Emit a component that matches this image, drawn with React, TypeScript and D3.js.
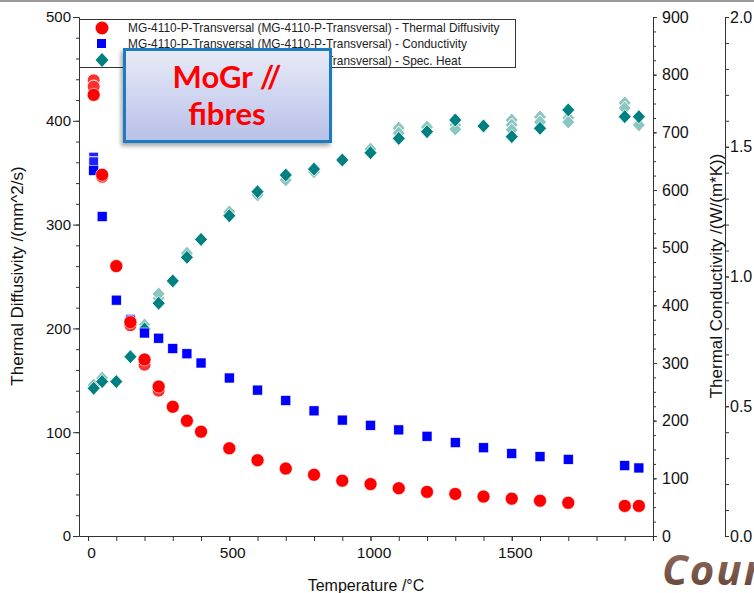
import React, { useEffect, useRef } from "react";
import * as d3 from "d3";

// temperatures /°C of the measured points
const temps = [20, 50, 100, 150, 200, 250, 300, 350, 400, 500, 600, 700, 800, 900, 1000, 1100, 1200, 1300, 1400, 1500, 1600, 1700, 1900, 1950];
// thermal diffusivity /(mm^2/s)
const diffusivity = [425, 348, 260, 206, 170, 144, 124.5, 111, 100.5, 84.5, 73, 65, 59, 53.3, 50, 46, 42.5, 40.5, 38, 36, 34, 32, 29, 29];
// thermal conductivity /(W/(m*K))
const conductivity = [634, 554, 409, 373, 352, 343, 325, 316, 300, 274, 253, 235, 217, 201, 192, 184, 173, 162, 153, 143, 137.5, 133, 122, 118];
// specific heat
const specHeat = [0.569, 0.595, 0.595, 0.691, 0.798, 0.897, 0.983, 1.074, 1.143, 1.234, 1.327, 1.391, 1.414, 1.449, 1.477, 1.532, 1.558, 1.603, 1.58, 1.539, 1.571, 1.642, 1.616, 1.616];

// repeated shots (drawn behind the main points)
const diffRepT = [20, 20, 50, 150, 200, 250];
const diffRepV = [439, 433, 346, 203, 165, 140];
const condRepT = [20, 20, 150, 200];
const condRepV = [657, 649, 376, 356];
const cpRepT = [20, 50, 200, 250, 250, 350, 500, 600, 700, 800, 1000, 1100, 1100, 1200, 1300, 1300, 1500, 1500, 1500, 1600, 1600, 1700, 1700, 1900, 1900, 1950];
const cpRepV = [0.582, 0.609, 0.813, 0.917, 0.933, 1.09, 1.249, 1.314, 1.372, 1.403, 1.491, 1.572, 1.553, 1.576, 1.584, 1.568, 1.603, 1.584, 1.565, 1.615, 1.595, 1.611, 1.595, 1.669, 1.649, 1.584];

const legendLabels = [
  "MG-4110-P-Transversal (MG-4110-P-Transversal) - Thermal Diffusivity",
  "MG-4110-P-Transversal (MG-4110-P-Transversal) - Conductivity",
  "MG-4110-P-Transversal (MG-4110-P-Transversal) - Spec. Heat",
];

const W = 754;
const H = 593;
const font = "'Liberation Sans', Arial, sans-serif";

const diamond = (cx: number, cy: number) =>
  `M${cx},${cy - 7}L${cx + 6.5},${cy}L${cx},${cy + 7}L${cx - 6.5},${cy}Z`;

function App() {
  const ref = useRef<SVGSVGElement>(null);

  useEffect(() => {
    const svg = d3.select(ref.current);
    svg.selectAll("*").remove();

    const x = d3.scaleLinear().domain([-32, 2000]).range([79, 653]);
    const yD = d3.scaleLinear().domain([0, 500]).range([536, 17]);
    const yK = d3.scaleLinear().domain([0, 900]).range([536, 17]);
    const yC = d3.scaleLinear().domain([0, 2]).range([536, 17]);

    const defs = svg.append("defs");
    const grad = defs.append("linearGradient").attr("id", "boxgrad").attr("x1", 0).attr("y1", 0).attr("x2", 0).attr("y2", 1);
    grad.append("stop").attr("offset", "0%").attr("stop-color", "#e9ebf8");
    grad.append("stop").attr("offset", "100%").attr("stop-color", "#b7c0e8");
    const brown = defs.append("linearGradient").attr("id", "brown").attr("x1", 0).attr("y1", 0).attr("x2", 0).attr("y2", 1);
    brown.append("stop").attr("offset", "0%").attr("stop-color", "#9b7566");
    brown.append("stop").attr("offset", "100%").attr("stop-color", "#5e3f33");
    const shadow = defs.append("filter").attr("id", "shadow").attr("x", "-10%").attr("y", "-10%").attr("width", "130%").attr("height", "130%");
    shadow.append("feDropShadow").attr("dx", -2).attr("dy", 3).attr("stdDeviation", 2).attr("flood-color", "#000").attr("flood-opacity", 0.35);

    // top frame line of the screenshot
    svg.append("rect").attr("x", 0).attr("y", 0).attr("width", W).attr("height", 2).attr("fill", "#9a9a9a");

    const styleAxis = (size: number) => (g: any) => {
      g.selectAll("path, line").attr("stroke", "#333");
      g.selectAll("text").attr("fill", "#111").attr("font-size", size).attr("font-family", font);
    };

    // left axis
    svg.append("g").attr("transform", "translate(79,0)")
      .call(d3.axisLeft(yD).tickValues(d3.range(0, 501, 20)).tickSize(3).tickFormat(() => "").tickSizeOuter(0))
      .call(styleAxis(15));
    svg.append("g").attr("transform", "translate(79,0)")
      .call(d3.axisLeft(yD).tickValues(d3.range(0, 501, 100)).tickSize(6).tickPadding(2).tickFormat(d3.format("d")).tickSizeOuter(0))
      .call(styleAxis(15));

    // bottom axis
    svg.append("g").attr("transform", "translate(0,536)")
      .call(d3.axisBottom(x).tickValues(d3.range(0, 2001, 100)).tickSize(5).tickFormat(() => "").tickSizeOuter(0))
      .call(styleAxis(15));
    svg.append("g").attr("transform", "translate(0,536)")
      .call(d3.axisBottom(x).tickValues([0, 500, 1000, 1500]).tickSize(5).tickPadding(6).tickFormat(d3.format("d")).tickSizeOuter(0))
      .call(styleAxis(15.5))
      .call((g: any) => g.select(".domain").remove())
      .call((g: any) => g.selectAll("text").attr("dx", 3));

    // right axis 1 (conductivity)
    svg.append("g").attr("transform", "translate(653,0)")
      .call(d3.axisRight(yK).tickValues(d3.range(0, 901, 25)).tickSize(3).tickFormat(() => "").tickSizeOuter(0))
      .call(styleAxis(16));
    svg.append("g").attr("transform", "translate(653,0)")
      .call(d3.axisRight(yK).tickValues(d3.range(0, 901, 100)).tickSize(4).tickPadding(5).tickFormat(d3.format("d")).tickSizeOuter(0))
      .call(styleAxis(16));

    // right axis 2 (spec. heat)
    svg.append("g").attr("transform", "translate(725,0)")
      .call(d3.axisRight(yC).tickValues(d3.range(0, 2.001, 0.1)).tickSize(4).tickFormat(() => "").tickSizeOuter(0))
      .call(styleAxis(16));
    svg.append("g").attr("transform", "translate(725,0)")
      .call(d3.axisRight(yC).tickValues([0, 0.5, 1, 1.5, 2]).tickSize(4).tickPadding(1).tickFormat(d3.format(".1f")).tickSizeOuter(0))
      .call(styleAxis(16));

    // axis titles
    svg.append("text").attr("transform", "translate(23,276) rotate(-90)").attr("text-anchor", "middle")
      .attr("font-family", font).attr("font-size", 17).attr("fill", "#111").text("Thermal Diffusivity /(mm^2/s)");
    svg.append("text").attr("transform", "translate(722,276) rotate(-90)").attr("text-anchor", "middle")
      .attr("font-family", font).attr("font-size", 17).attr("fill", "#111").text("Thermal Conductivity /(W/(m*K))");
    svg.append("text").attr("x", 366).attr("y", 591).attr("text-anchor", "middle")
      .attr("font-family", font).attr("font-size", 16).attr("fill", "#111").text("Temperature /°C");

    const plot = svg.append("g");

    // repeated shots
    plot.selectAll(".cpRep").data(cpRepT).join("path")
      .attr("d", (t, i) => diamond(x(t), yC(cpRepV[i])))
      .attr("fill", "#8cc6c1").attr("stroke", "#fff").attr("stroke-width", 1);
    plot.selectAll(".diffRep").data(diffRepT).join("circle")
      .attr("cx", (t) => x(t)).attr("cy", (t, i) => yD(diffRepV[i])).attr("r", 6.5)
      .attr("fill", "#ff3030").attr("stroke", "#fff").attr("stroke-width", 1);
    plot.selectAll(".condRep").data(condRepT).join("rect")
      .attr("x", (t) => x(t) - 5).attr("y", (t, i) => yK(condRepV[i]) - 5).attr("width", 10).attr("height", 10)
      .attr("fill", "#2222ff").attr("stroke", "#fff").attr("stroke-width", 1);

    // main series
    plot.selectAll(".cp").data(temps).join("path")
      .attr("d", (t, i) => diamond(x(t), yC(specHeat[i])))
      .attr("fill", "#008080").attr("stroke", "#fff").attr("stroke-width", 0.8);
    plot.selectAll(".cond").data(temps).join("rect")
      .attr("x", (t) => x(t) - 5).attr("y", (t, i) => yK(conductivity[i]) - 5).attr("width", 10).attr("height", 10)
      .attr("fill", "#0000ff").attr("stroke", "#fff").attr("stroke-width", 0.6);
    plot.selectAll(".diff").data(temps).join("circle")
      .attr("cx", (t) => x(t)).attr("cy", (t, i) => yD(diffusivity[i])).attr("r", 6.5)
      .attr("fill", "#ff0000").attr("stroke", "#fff").attr("stroke-width", 0.6);

    // legend
    const lg = svg.append("g");
    lg.append("rect").attr("x", 79.5).attr("y", 19.5).attr("width", 436).attr("height", 48)
      .attr("fill", "#fff").attr("stroke", "#333");
    lg.append("circle").attr("cx", 102).attr("cy", 28).attr("r", 6.5).attr("fill", "#ff0000");
    lg.append("rect").attr("x", 97).attr("y", 39).attr("width", 9).attr("height", 9).attr("fill", "#0000ff");
    lg.append("path").attr("d", diamond(102, 60)).attr("fill", "#008080");
    lg.selectAll(".lt").data(legendLabels).join("text")
      .attr("x", 128).attr("y", (d, i) => [32, 48, 65][i])
      .attr("font-family", font).attr("font-size", 11.9).attr("fill", "#222").text((d) => d);

    // annotation box
    const ann = svg.append("g");
    ann.append("rect").attr("x", 124.5).attr("y", 49.5).attr("width", 206).attr("height", 92)
      .attr("fill", "url(#boxgrad)").attr("stroke", "#1a7bc2").attr("stroke-width", 3).attr("filter", "url(#shadow)");
    ann.append("text").attr("x", 227).attr("y", 88).attr("text-anchor", "middle")
      .attr("font-family", "Lato, 'Open Sans', sans-serif").attr("font-weight", "bold").attr("font-size", 31)
      .attr("fill", "#ff0000").text("MoGr //");
    ann.append("text").attr("x", 227).attr("y", 125).attr("text-anchor", "middle")
      .attr("font-family", "Lato, 'Open Sans', sans-serif").attr("font-weight", "bold").attr("font-size", 31)
      .attr("fill", "#ff0000").text("fibres");

    svg.append("text").attr("x", 662).attr("y", 585)
      .attr("font-family", "'Open Sans', Lato, sans-serif").attr("font-weight", "bold").attr("font-style", "italic")
      .attr("font-size", 42).attr("letter-spacing", 2).attr("fill", "url(#brown)").text("Courtesy");
  }, []);

  return (
    <svg
      ref={ref}
      width={W}
      height={H}
      style={{ position: "absolute", left: 0, top: 0, background: "#fff" }}
    />
  );
}

export default App;
